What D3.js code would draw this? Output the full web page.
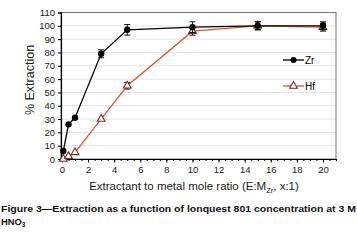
<!DOCTYPE html>
<html>
<head>
<meta charset="utf-8">
<script src="https://cdn.jsdelivr.net/npm/d3@7"></script>
<style>
  body { margin: 0; background: #fff; }
  text { font-family: Arial, "Liberation Sans", sans-serif; }
</style>
</head>
<body>
<svg id="chart" width="357" height="242"></svg>
<script>
// mole ratio E:M
const ratios = [0.1, 0.5, 1, 3, 5, 10, 15, 20];
const zrValues = [6, 26, 31, 79, 97, 99, 100, 100];
const zrErrors = [0, 0, 0, 3, 4, 4, 3, 3];
const hfValues = [0, 2, 5, 30, 55, 96, 100, 99];
const hfErrors = [0, 0, 0, 0, 2.5, 3, 3, 3];
const xTicks = [0, 2, 4, 6, 8, 10, 12, 14, 16, 18, 20];
const yTicks = [0, 10, 20, 30, 40, 50, 60, 70, 80, 90, 100, 110];

const svg = d3.select("#chart");

let x = d3.scaleLinear().domain([0, 21]).range([62, 336]);
let y = d3.scaleLinear().domain([0, 110]).range([159, 12.5]);

// grid
svg.append("g")
  .selectAll("line")
  .data(yTicks.slice(1))
  .enter()
  .append("line")
  .attr("x1", 61).attr("x2", 336)
  .attr("y1", d => y(d)).attr("y2", d => y(d))
  .attr("stroke", "#dcdcdc")
  .attr("stroke-width", 0.8);

// frame
svg.append("rect")
  .attr("x", 61).attr("y", 12.5)
  .attr("width", 275).attr("height", 146.5)
  .attr("fill", "none")
  .attr("stroke", "#555")
  .attr("stroke-width", 0.8);

// y axis
let yAxis = svg.append("g")
  .attr("transform", "translate(61,0)")
  .call(d3.axisLeft(y).tickValues(yTicks).tickSize(3).tickPadding(3));
yAxis.select(".domain").attr("stroke", "#000").attr("stroke-width", 1.2);
yAxis.selectAll("text").attr("font-size", 9.5).attr("fill", "#222");

// x axis: minor ticks every 0.5, labels on even numbers
svg.append("g")
  .attr("transform", "translate(0,159)")
  .call(d3.axisBottom(x).tickValues(d3.range(0, 21.5, 0.5)).tickSize(2).tickFormat(""))
  .select(".domain").remove();
let xAxis = svg.append("g")
  .attr("transform", "translate(0,159)")
  .call(d3.axisBottom(x).tickValues(xTicks).tickSize(3.5).tickPadding(4).tickSizeOuter(0));
xAxis.select(".domain").attr("stroke", "#000").attr("stroke-width", 1.2);
xAxis.selectAll("text").attr("font-size", 9.5).attr("fill", "#222");

// error bars
function errorBars(vals, errs) {
  let g = svg.append("g");
  ratios.forEach((r, i) => {
    if (!errs[i]) return;
    let cx = x(r), top = y(vals[i] + errs[i]), bot = y(vals[i] - errs[i]);
    g.append("line").attr("x1", cx).attr("x2", cx).attr("y1", top).attr("y2", bot)
      .attr("stroke", "#000").attr("stroke-width", 0.9);
    [top, bot].forEach(yy => {
      g.append("line").attr("x1", cx - 3).attr("x2", cx + 3).attr("y1", yy).attr("y2", yy)
        .attr("stroke", "#000").attr("stroke-width", 0.9);
    });
  });
}

let line = d3.line().x(d => x(d[0])).y(d => y(d[1]));
let zrData = ratios.map((r, i) => [r, zrValues[i]]);
let hfData = ratios.map((r, i) => [r, hfValues[i]]);

errorBars(hfValues, hfErrors);

svg.append("path").datum(hfData)
  .attr("d", line).attr("fill", "none")
  .attr("stroke", "#e2532c").attr("stroke-width", 1.3);

let tri = d3.symbol().type(d3.symbolTriangle).size(26);
svg.append("g").selectAll("path")
  .data(hfData).enter().append("path")
  .attr("d", tri)
  .attr("transform", d => `translate(${x(d[0])},${y(d[1])})`)
  .attr("fill", "#fff").attr("stroke", "#7a2b1c").attr("stroke-width", 1.1);

errorBars(zrValues, zrErrors);

svg.append("path").datum(zrData)
  .attr("d", line).attr("fill", "none")
  .attr("stroke", "#000").attr("stroke-width", 1.3);

svg.append("g").selectAll("circle")
  .data(zrData).enter().append("circle")
  .attr("cx", d => x(d[0])).attr("cy", d => y(d[1]))
  .attr("r", 3.2).attr("fill", "#000");

// legend
let legend = svg.append("g");
legend.append("line").attr("x1", 283).attr("x2", 304).attr("y1", 60).attr("y2", 60)
  .attr("stroke", "#000").attr("stroke-width", 1.3);
legend.append("circle").attr("cx", 293.5).attr("cy", 60).attr("r", 3).attr("fill", "#000");
legend.append("text").attr("x", 305).attr("y", 63.5).attr("font-size", 10).text("Zr");
legend.append("line").attr("x1", 283).attr("x2", 304).attr("y1", 86).attr("y2", 86)
  .attr("stroke", "#e2532c").attr("stroke-width", 1.3);
legend.append("path").attr("d", tri)
  .attr("transform", "translate(293.5,86)")
  .attr("fill", "#fff").attr("stroke", "#7a2b1c").attr("stroke-width", 1.1);
legend.append("text").attr("x", 305).attr("y", 89.5).attr("font-size", 10).text("Hf");

// axis titles
svg.append("text")
  .attr("transform", "translate(34,80) rotate(-90)")
  .attr("text-anchor", "middle")
  .attr("font-size", 12.5).attr("fill", "#222")
  .text("% Extraction");

let xt = svg.append("text")
  .attr("x", 194).attr("y", 190)
  .attr("text-anchor", "middle")
  .attr("font-size", 11.5).attr("fill", "#222");
xt.append("tspan").text("Extractant to metal mole ratio (E:M");
xt.append("tspan").attr("font-size", 7.5).attr("dy", 2.5).text("Zr");
xt.append("tspan").attr("dy", -2.5).text(", x:1)");

// caption
let cap = svg.append("g").attr("font-weight", "bold").attr("font-size", 9.4).attr("fill", "#111");
cap.append("text").attr("x", 1).attr("y", 212)
  .attr("textLength", 355).attr("lengthAdjust", "spacingAndGlyphs")
  .text("Figure 3\u2014Extraction as a function of lonquest 801 concentration at 3 M");
let c2 = cap.append("text").attr("x", 1).attr("y", 225);
c2.append("tspan").text("HNO");
c2.append("tspan").attr("font-size", 6.5).attr("dy", 2).text("3");
</script>
</body>
</html>
